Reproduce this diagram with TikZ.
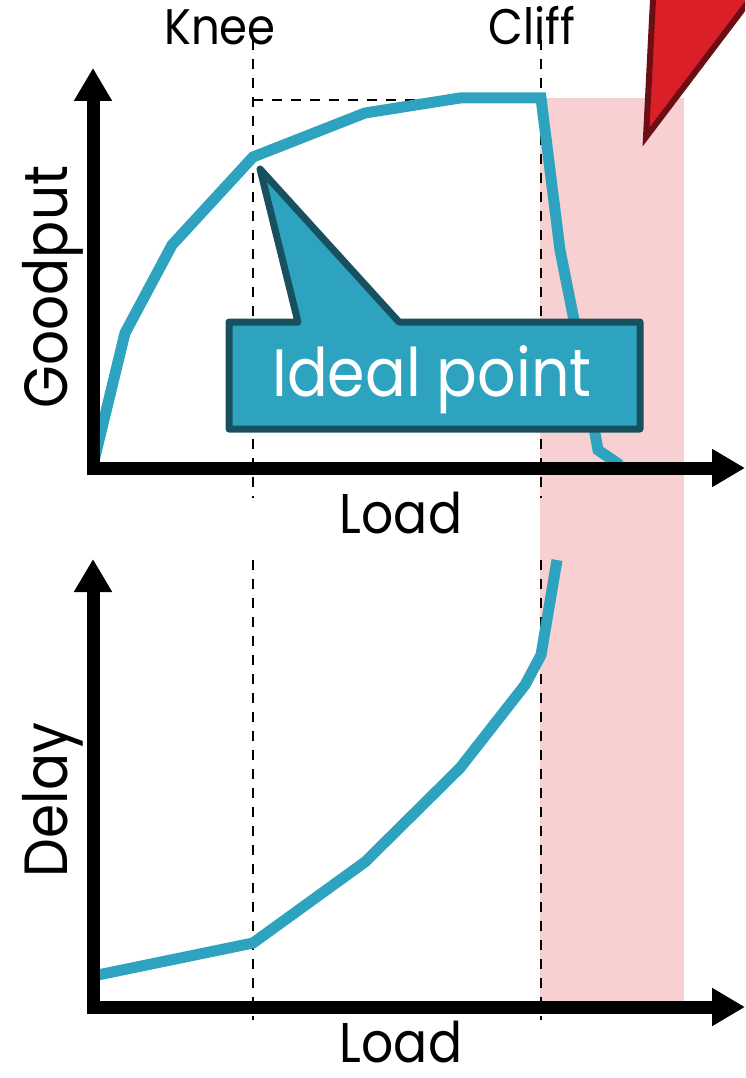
\documentclass[tikz,border=0pt]{standalone}
\usepackage{fontspec}
\setmainfont{Poppins}[FakeStretch=0.9]
\usetikzlibrary{arrows.meta}
\definecolor{curvecol}{HTML}{2EA3C0}
\definecolor{calloutedge}{HTML}{17515F}
\definecolor{pinkband}{HTML}{F8D0D2}
\definecolor{redtri}{HTML}{DA1F28}
\definecolor{redtriedge}{HTML}{6B0F14}
\begin{document}
\begin{tikzpicture}[x=1pt,y=-1pt,
  axisline/.style={line width=13pt, -{Triangle[length=33pt,width=36pt]}},
  curveline/.style={line width=11pt, draw=curvecol},
  guide/.style={line width=2.5pt, dash pattern=on 10pt off 9pt},
  lbl/.style={inner sep=0pt, anchor=base, text depth=0pt, font=\fontsize{56}{60}\selectfont},
  toplbl/.style={inner sep=0pt, anchor=base, font=\fontsize{50}{54}\selectfont},
  ylbl/.style={inner sep=0pt, anchor=base, rotate=90, font=\fontsize{61}{66}\selectfont},
  callout/.style={fill=curvecol, draw=calloutedge, line width=7pt, line join=round}
]
\useasboundingbox (0,0) rectangle (745,1078);
\clip (0,0) rectangle (745,1078);
% band
\fill[pinkband] (540,98) rectangle (684,1001);
% guides
\coordinate (kneeT) at (253,40);
\coordinate (kneeB) at (253,498);
\coordinate (cliffT) at (541,40);
\coordinate (cliffB) at (541,498);
\coordinate (kneeT2) at (253,560);
\coordinate (kneeB2) at (253,1020);
\coordinate (cliffT2) at (541,560);
\coordinate (cliffB2) at (541,1020);
\coordinate (kneeH) at (253,100);
\coordinate (cliffH) at (541,100);
\draw[guide] (kneeT) -- (kneeB);
\draw[guide] (cliffT) -- (cliffB);
\draw[guide] (kneeT2) -- (kneeB2);
\draw[guide] (cliffT2) -- (cliffB2);
\draw[guide] (kneeH) -- (cliffH);
% curves
\draw[curveline] (93,465) -- (125,333) -- (172,245) -- (253,157) -- (365,113) -- (460,98) -- (541,98) -- (560,250) -- (578,340) -- (598,450) -- (620,465);
\draw[curveline] (93,976) -- (253,943) -- (365,862) -- (460,768) -- (525,685) -- (541,655) -- (557,560);
% axes
\coordinate (o1) at (93,468);
\coordinate (o2) at (93,1007);
\draw[axisline] (93,474) -- (93,68);
\draw[axisline] (87,468) -- (745,468);
\draw[axisline] (93,1013) -- (93,559);
\draw[axisline] (87,1007) -- (745,1007);
% callout
\draw[callout] (229,322) -- (298,322) -- (260,169) -- (399,322) -- (640,322) -- (640,429) -- (229,429) -- cycle;
\node[inner sep=0pt, anchor=base, text=white, font=\fontsize{67}{70}\selectfont] (ideal) at (432,396) {Ideal point};
% red triangle
\draw[fill=redtri, draw=redtriedge, line width=6pt] (646,137) -- (654,-20) -- (765,-20) -- cycle;
% labels
\node[toplbl] (knee) at (220,45) {Knee};
\node[toplbl] (cliff) at (532,45) {Cliff};
\node[lbl] (load1) at (401,533) {Load};
\node[lbl] (load2) at (401,1062) {Load};
\node[ylbl] (goodput) at (67,287) {Goodput};
\node[ylbl] (delay) at (67,800) {Delay};
\end{tikzpicture}
\end{document}
